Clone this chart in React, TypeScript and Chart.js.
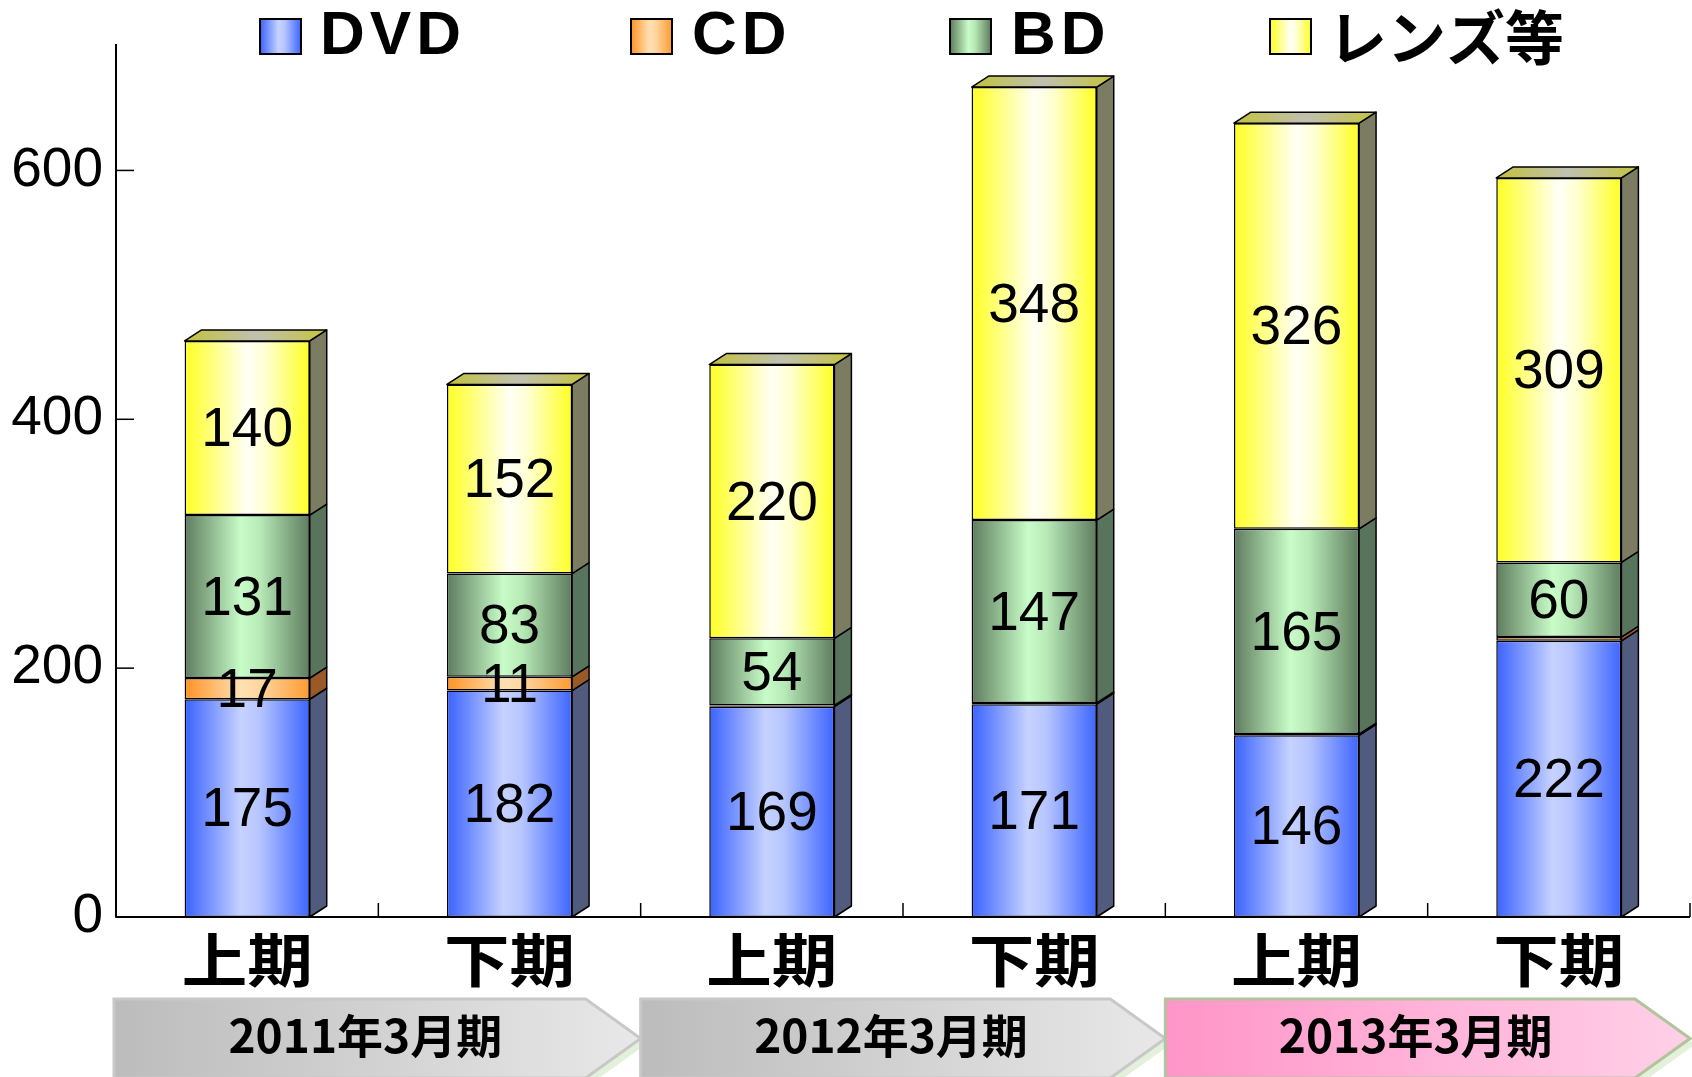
import React, { useEffect, useRef } from 'react';
import { Chart, registerables } from 'chart.js';

Chart.register(...registerables);

// ---- data ----
const categories = ['上期', '下期', '上期', '下期', '上期', '下期'];
const periods = ['2011年3月期', '2012年3月期', '2013年3月期'];
const seriesNames = ['DVD', 'CD', 'BD', 'レンズ等'];
const dvd = [175, 182, 169, 171, 146, 222];
const cd = [17, 11, 1, 1, 1, 3];
const bd = [131, 83, 54, 147, 165, 60];
const lens = [140, 152, 220, 348, 326, 309];
const yTicks = [0, 200, 400, 600];

// ---- styles ----
const frontStops: [number, string][][] = [
  [[0, '#3a62ff'], [0.45, '#c6d2ff'], [0.6, '#b6c5ff'], [1, '#3d65ff']],
  [[0, '#ff9324'], [0.45, '#ffe0b2'], [0.6, '#ffd6a0'], [1, '#ff9a30']],
  [[0, '#5e7c5e'], [0.45, '#c8fcc8'], [0.6, '#b8eab8'], [1, '#5e7c5e']],
  [[0, '#ffff22'], [0.5, '#fffff6'], [0.65, '#ffffd0'], [1, '#ffff22']],
];
const sideColors = ['#515b7e', '#9a5a28', '#58745c', '#7c7c62'];
const DX = 17;
const DY = 11;

function makeGrad(ctx: CanvasRenderingContext2D, x0: number, x1: number, stops: [number, string][]) {
  const g = ctx.createLinearGradient(x0, 0, x1, 0);
  stops.forEach(([o, c]) => g.addColorStop(o, c));
  return g;
}

const threeDPlugin = {
  id: 'threeD',
  afterDatasetsDraw(chart: any) {
    const ctx: CanvasRenderingContext2D = chart.ctx;
    const nDs = chart.data.datasets.length;
    ctx.save();
    ctx.lineJoin = 'round';
    for (let d = 0; d < nDs; d++) {
      const meta = chart.getDatasetMeta(d);
      meta.data.forEach((el: any) => {
        const p = el.getProps(['x', 'y', 'base', 'width'], true);
        const xl = p.x - p.width / 2;
        const xr = p.x + p.width / 2;
        ctx.beginPath();
        ctx.moveTo(xr, p.y);
        ctx.lineTo(xr + DX, p.y - DY);
        ctx.lineTo(xr + DX, p.base - DY);
        ctx.lineTo(xr, p.base);
        ctx.closePath();
        ctx.fillStyle = sideColors[d];
        ctx.fill();
        ctx.strokeStyle = '#000';
        ctx.lineWidth = 1.5;
        ctx.stroke();
        if (d === nDs - 1) {
          ctx.beginPath();
          ctx.moveTo(xl, p.y);
          ctx.lineTo(xl + DX, p.y - DY);
          ctx.lineTo(xr + DX, p.y - DY);
          ctx.lineTo(xr, p.y);
          ctx.closePath();
          const tg = ctx.createLinearGradient(xl, 0, xr + DX, 0);
          tg.addColorStop(0, '#c2c23a');
          tg.addColorStop(0.5, '#c0c0b2');
          tg.addColorStop(1, '#c4c43c');
          ctx.fillStyle = tg;
          ctx.fill();
          ctx.stroke();
        }
      });
    }
    // axes
    const a = chart.chartArea;
    const xs = chart.scales.x;
    const ys = chart.scales.y;
    ctx.strokeStyle = '#000';
    ctx.lineWidth = 2;
    ctx.beginPath();
    ctx.moveTo(a.left, a.top - 2);
    ctx.lineTo(a.left, a.bottom);
    ctx.lineTo(a.right, a.bottom);
    ctx.stroke();
    ctx.lineWidth = 1.5;
    yTicks.forEach((v) => {
      if (v === 0) return;
      const y = ys.getPixelForValue(v);
      ctx.beginPath();
      ctx.moveTo(a.left, y);
      ctx.lineTo(a.left + 18, y);
      ctx.stroke();
    });
    const cw = (a.right - a.left) / categories.length;
    for (let i = 1; i <= categories.length; i++) {
      const x = xs.left + i * cw;
      ctx.beginPath();
      ctx.moveTo(x, a.bottom);
      ctx.lineTo(x, a.bottom - 14);
      ctx.stroke();
    }
    // category labels (slightly wide, as in the source)
    ctx.fillStyle = '#000';
    ctx.font = 'bold 58px "Noto Sans CJK JP", sans-serif';
    ctx.textAlign = 'center';
    ctx.textBaseline = 'middle';
    categories.forEach((c, i) => {
      const x = xs.getPixelForValue(i);
      ctx.save();
      ctx.translate(x, 960);
      ctx.scale(1.13, 1);
      ctx.fillText(c, 0, 0);
      ctx.restore();
    });
    // value labels
    ctx.font = '55px "Liberation Sans", Arial, sans-serif';
    for (let d = 0; d < nDs; d++) {
      const meta = chart.getDatasetMeta(d);
      const vals = chart.data.datasets[d].data;
      meta.data.forEach((el: any, i: number) => {
        const v = vals[i];
        if (v < 5) return;
        const p = el.getProps(['x', 'y', 'base'], true);
        ctx.fillText(String(v), p.x, (p.y + p.base) / 2 + 3);
      });
    }
    ctx.restore();
  },
};

const decorPlugin = {
  id: 'decor',
  afterDraw(chart: any) {
    const ctx: CanvasRenderingContext2D = chart.ctx;
    const a = chart.chartArea;
    const cw = (a.right - a.left) / categories.length;
    ctx.save();
    // legend
    const boxX = [260, 631, 950, 1270];
    const textX = [320, 692, 1011, 1328];
    seriesNames.forEach((name, i) => {
      const bx = boxX[i];
      ctx.fillStyle = makeGrad(ctx, bx, bx + 41, frontStops[i]);
      ctx.fillRect(bx, 19, 41, 35);
      ctx.strokeStyle = '#000';
      ctx.lineWidth = 2;
      ctx.strokeRect(bx, 19, 41, 35);
      ctx.fillStyle = '#000';
      ctx.textAlign = 'left';
      ctx.textBaseline = 'middle';
      const isCjk = /[^\x00-\x7f]/.test(name);
      if (isCjk) {
        (ctx as any).letterSpacing = '0px';
        ctx.font = 'bold 59px "Noto Sans CJK JP", sans-serif';
        ctx.fillText(name, textX[i], 38);
      } else {
        (ctx as any).letterSpacing = '5px';
        ctx.font = 'bold 62px "Liberation Sans", Arial, sans-serif';
        ctx.fillText(name, textX[i], 37);
      }
    });
    (ctx as any).letterSpacing = '0px';
    // period arrows
    const top = 999;
    const bottom = 1078;
    const mid = (top + bottom) / 2;
    const tip = 55;
    periods.forEach((label, k) => {
      const left = a.left + k * 2 * cw - (k === 0 ? 2 : 0);
      const right = a.left + (k + 1) * 2 * cw;
      const path = (ox: number, oy: number) => {
        ctx.beginPath();
        ctx.moveTo(left + ox, top + oy);
        ctx.lineTo(right - tip + ox, top + oy);
        ctx.lineTo(right + ox, mid + oy);
        ctx.lineTo(right - tip + ox, bottom + oy);
        ctx.lineTo(left + ox, bottom + oy);
        ctx.closePath();
      };
      path(5, 6);
      ctx.fillStyle = '#e3f0da';
      ctx.fill();
      path(0, 0);
      const pink = k === 2;
      const g = ctx.createLinearGradient(left, 0, right, 0);
      if (pink) {
        g.addColorStop(0, '#ff95c8');
        g.addColorStop(1, '#ffd0e8');
      } else {
        g.addColorStop(0, '#bcbcbc');
        g.addColorStop(1, '#e8e8e8');
      }
      ctx.fillStyle = g;
      ctx.fill();
      ctx.strokeStyle = pink ? '#b2c49c' : '#c8c8c8';
      ctx.lineWidth = 3;
      ctx.stroke();
      ctx.fillStyle = '#000';
      ctx.textAlign = 'center';
      ctx.textBaseline = 'middle';
      ctx.font = 'bold 46px "Noto Sans CJK JP", sans-serif';
      ctx.fillText(label, (left + right) / 2 - 12, mid - 3);
    });
    ctx.restore();
  },
};

export default function App() {
  const ref = useRef<HTMLCanvasElement | null>(null);
  useEffect(() => {
    document.body.style.margin = '0';
    const canvas = ref.current!;
    const series = [dvd, cd, bd, lens];
    const chart = new Chart(canvas, {
      type: 'bar',
      data: {
        labels: categories,
        datasets: series.map((data, d) => ({
          label: seriesNames[d],
          data,
          categoryPercentage: 1,
          barPercentage: 0.477,
          borderColor: '#000',
          borderWidth: 1.5,
          borderSkipped: false,
          backgroundColor: (c: any) => {
            const ch = c.chart;
            const xs = ch.scales?.x;
            if (!ch.chartArea || !xs || c.dataIndex === undefined) return frontStops[d][1][1];
            const cw = (ch.chartArea.right - ch.chartArea.left) / categories.length;
            const half = (cw * 0.477) / 2;
            const cx = xs.getPixelForValue(c.dataIndex);
            return makeGrad(ch.ctx, cx - half, cx + half, frontStops[d]);
          },
        })),
      },
      options: {
        responsive: false,
        animation: false,
        devicePixelRatio: 1,
        layout: { padding: { top: 45, right: 2, left: 0, bottom: 0 } },
        plugins: { legend: { display: false }, tooltip: { enabled: false } },
        scales: {
          x: {
            stacked: true,
            grid: { display: false, drawTicks: false },
            border: { display: false },
            ticks: { display: false },
            afterFit: (s: any) => {
              s.height = 160;
            },
          },
          y: {
            stacked: true,
            min: 0,
            max: 700,
            grid: { display: false, drawTicks: false },
            border: { display: false },
            ticks: {
              stepSize: 200,
              font: { family: '"Liberation Sans", Arial, sans-serif', size: 55 },
              color: '#000',
              padding: 13,
            },
            afterBuildTicks: (s: any) => {
              s.ticks = yTicks.map((v) => ({ value: v }));
            },
            afterFit: (s: any) => {
              s.width = 116;
            },
          },
        },
      } as any,
      plugins: [threeDPlugin, decorPlugin],
    });
    return () => chart.destroy();
  }, []);
  return (
    <div style={{ position: 'fixed', left: 0, top: 0, width: 1692, height: 1077, background: '#fff' }}>
      <canvas ref={ref} width={1692} height={1077} style={{ width: 1692, height: 1077, display: 'block' }} />
    </div>
  );
}
